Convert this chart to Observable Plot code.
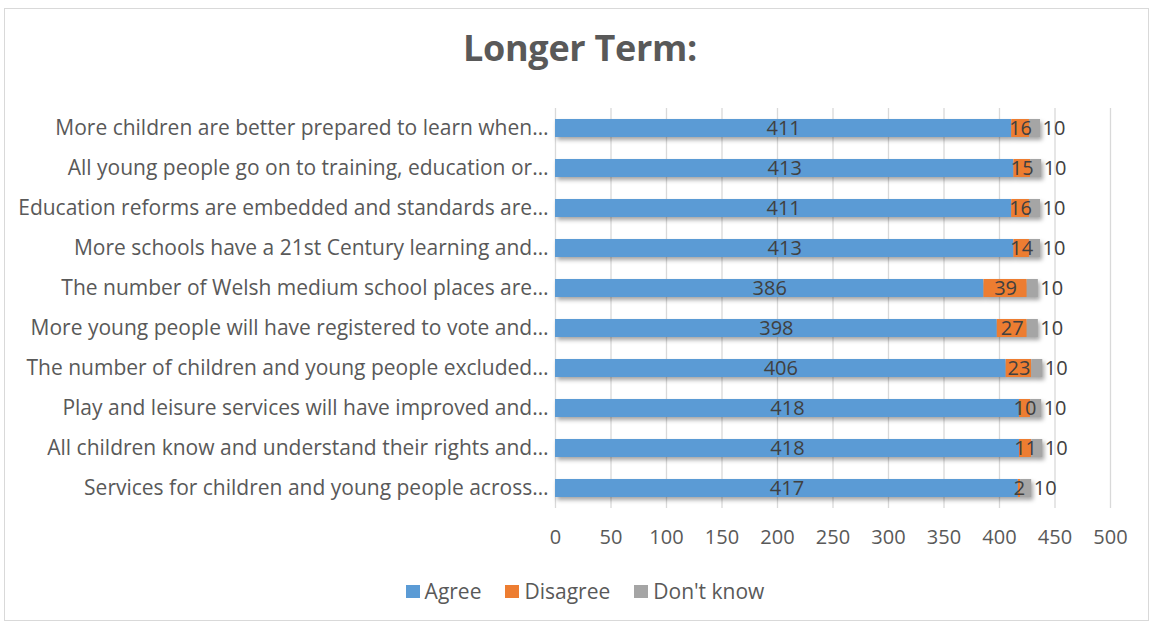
<!DOCTYPE html>
<html>
<head>
<meta charset="utf-8">
<script src="https://cdn.jsdelivr.net/npm/d3@7"></script>
<script src="https://cdn.jsdelivr.net/npm/@observablehq/plot@0.6"></script>
<style>
  html, body { margin: 0; padding: 0; background: #fff; width: 1157px; height: 630px; overflow: hidden; }
  body { position: relative; font-family: "Open Sans", sans-serif; color: #595959; }
  #frame { position: absolute; left: 4px; top: 8px; width: 1145px; height: 613px; border: 1px solid #d9d9d9; box-sizing: border-box; }
  #title { position: absolute; left: 0; top: 23px; width: 1160px; text-align: center; font-size: 36px; line-height: 50px; font-weight: bold; color: #595959; font-family: "Open Sans", sans-serif; letter-spacing: -0.3px; }
  #chart { position: absolute; left: 0; top: 90px; }
  #legend { position: absolute; left: 0; top: 578px; width: 1170px; display: flex; justify-content: center; gap: 24px; font-size: 21px; line-height: 26px; color: #595959; }
  #legend span.item { display: inline-flex; align-items: center; }
  #legend span.sw { display: inline-block; width: 14px; height: 13px; margin-right: 5px; }
</style>
</head>
<body>
<div id="frame"></div>
<div id="title">Longer Term:</div>
<div id="chart"></div>
<div id="legend"></div>
<script>
const items = [
  "More children are better prepared to learn when…",
  "All young people go on to training, education or…",
  "Education reforms are embedded and standards are…",
  "More schools have a 21st Century learning and…",
  "The number of Welsh medium school places are…",
  "More young people will have registered to vote and…",
  "The number of children and young people excluded…",
  "Play and leisure services will have improved and…",
  "All children know and understand their rights and…",
  "Services for children and young people across…"
];
const agree    = [411, 413, 411, 413, 386, 398, 406, 418, 418, 417];
const disagree = [16, 15, 16, 14, 39, 27, 23, 10, 11, 2];
const dontKnow = [10, 10, 10, 10, 10, 10, 10, 10, 10, 10];
const seriesNames = ["Agree", "Disagree", "Don't know"];
const seriesColors = ["#5b9bd5", "#ed7d31", "#a5a5a5"];
const xTicks = [0, 50, 100, 150, 200, 250, 300, 350, 400, 450, 500];

const seriesValues = [agree, disagree, dontKnow];
const rows = [];
items.forEach((item, i) => {
  let start = 0;
  seriesValues.forEach((vals, s) => {
    const v = vals[i];
    rows.push({item, series: seriesNames[s], value: v, x1: start, x2: start + v, mid: start + v / 2});
    start += v;
  });
});

const plot = Plot.plot({
  width: 1157,
  height: 470,
  marginLeft: 555,
  marginRight: 47,
  marginTop: 18,
  marginBottom: 52,
  style: { fontFamily: "'Open Sans', sans-serif", fontSize: "21px", color: "#595959", background: "transparent" },
  x: { domain: [0, 500], ticks: xTicks, tickSize: 0, tickPadding: 21, label: null },
  y: { domain: items, paddingInner: 0.55, paddingOuter: 0.275, tickSize: 0, tickPadding: 7, label: null },
  color: { domain: seriesNames, range: seriesColors },
  marks: [
    Plot.ruleX(xTicks, { stroke: "#d9d9d9", strokeWidth: 1.3, strokeOpacity: 1 }),
    Plot.barX(rows, { x1: "x1", x2: "x2", y: "item", fill: "series" }),
    Plot.text(rows.filter(d => d.series !== "Don't know"), { x: "mid", y: "item", text: d => String(d.value), fill: "#404040", fontSize: 20 }),
    Plot.text(rows.filter(d => d.series === "Don't know"), { x: "x2", y: "item", text: d => String(d.value), fill: "#404040", fontSize: 20, textAnchor: "start", dx: 2 })
  ]
});
plot.querySelectorAll('g[aria-label="x-axis tick label"]').forEach(g => g.style.fontSize = "20px");
document.getElementById("chart").appendChild(plot);
plot.querySelectorAll('g[aria-label="bar"]').forEach(g => g.style.filter = "drop-shadow(2px 3px 2px rgba(0,0,0,0.35))");

const legend = document.getElementById("legend");
seriesNames.forEach((name, i) => {
  const it = document.createElement("span");
  it.className = "item";
  const sw = document.createElement("span");
  sw.className = "sw";
  sw.style.background = seriesColors[i];
  it.appendChild(sw);
  it.appendChild(document.createTextNode(name));
  legend.appendChild(it);
});
</script>
</body>
</html>
